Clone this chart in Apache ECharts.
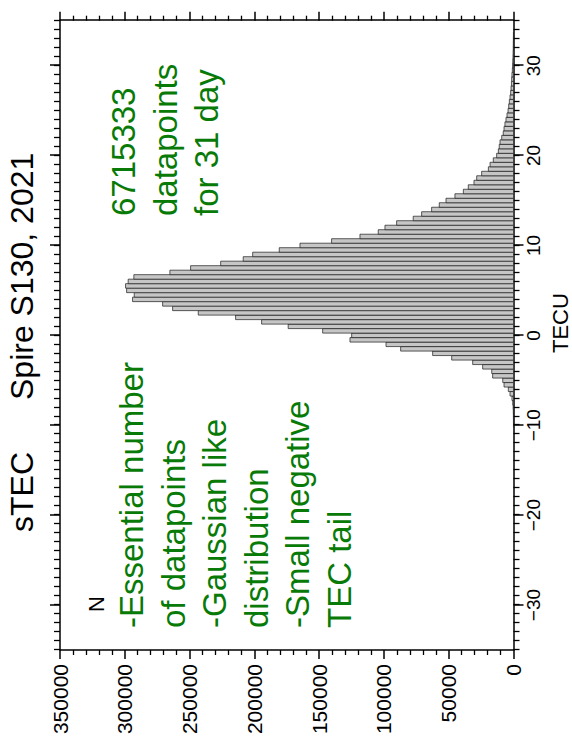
<!DOCTYPE html>
<html>
<head>
<meta charset="utf-8">
<script src="https://cdn.jsdelivr.net/npm/echarts@6/dist/echarts.min.js"></script>
<style>
html,body{margin:0;padding:0;background:#fff;overflow:hidden;width:572px;height:740px;}
#chart{position:absolute;left:0;top:0;width:740px;height:572px;transform-origin:0 0;transform:translate(0,740px) rotate(-90deg);}
</style>
</head>
<body>
<div id="chart"></div>
<script>
// Histogram bins (TECU, bin centres) and counts N
var binWidth = 0.5;
var binCenters = [-10,-9.5,-9,-8.5,-8,-7.5,-7,-6.5,-6,-5.5,-5,-4.5,-4,-3.5,-3,-2.5,-2,-1.5,-1,-0.5,
  0,0.5,1,1.5,2,2.5,3,3.5,4,4.5,5,5.5,6,6.5,7,7.5,8,8.5,9,9.5,
  10,10.5,11,11.5,12,12.5,13,13.5,14,14.5,15,15.5,16,16.5,17,17.5,18,18.5,19,19.5,
  20,20.5,21,21.5,22,22.5,23,23.5,24,24.5,25,25.5,26,26.5,27,27.5,28,28.5,29,29.5,
  30,30.5,31,31.5,32,32.5,33,33.5];
var counts = [30,50,80,150,300,600,1200,2700,4000,7300,8300,16100,16800,23800,31500,47700,62400,87100,98400,126200,
  124900,147300,173900,194400,214500,243300,263100,270800,294000,292700,298600,299400,297400,293000,265200,249200,226000,208600,201300,180800,
  164800,140400,118500,104400,99200,90200,77400,70900,63200,57300,52100,45200,38700,34900,30500,28400,24600,19400,18100,15600,
  13000,11700,11000,10400,9100,7900,7300,6600,5800,5000,4200,3700,3200,2700,2200,1900,1600,1400,1200,900,
  700,550,400,300,200,150,100,50];
var tecMajorTicks = [-30,-20,-10,0,10,20,30];
var tecRange = [-35, 35];
var nRange = [0, 350000];
var nInterval = 50000;

var titleLeft = 'sTEC';
var titleRight = 'Spire S130, 2021';
var noteRight = ['6715333', 'datapoints', 'for 31 day'];
var noteLeft = ['-Essential number', 'of datapoints', '-Gaussian like', 'distribution', '-Small negative', 'TEC tail'];
var yName = 'N';
var xName = 'TECU';

var FONT = '"Liberation Sans", Arial, Helvetica, sans-serif';
var GREEN = '#087a08';

var data = binCenters.map(function (c, i) { return [c, counts[i]]; });

var chart = echarts.init(document.getElementById('chart'), null, {renderer: 'svg', width: 740, height: 572});

function minusFmt(v) { return String(v).replace('-', '\u2212'); }
function plainFmt(v) { return String(v); }

var graphics = [];
function addText(txt, x, y, size, color) {
  graphics.push({type: 'text', x: x, y: y, z: 100,
    style: {text: txt, fill: color, fontSize: size, fontFamily: FONT, align: 'left', verticalAlign: 'middle'}});
}
addText(titleLeft, 208, 21.5, 32, '#000');
addText(titleRight, 340, 21.5, 32, '#000');
var rightBase = [123, 165, 206];
noteRight.forEach(function (t, i) { addText(t, 524, rightBase[i], 33, GREEN); });
var leftBase = [131, 173, 214, 256, 297, 339];
noteLeft.forEach(function (t, i) { addText(t, 112, leftBase[i], 33, GREEN); });
addText(yName, 128, 96, 22, '#000');
addText(xName, 387, 560, 22, '#000');

var lineStyle = {color: '#000', width: 1.5};

chart.setOption({
  animation: false,
  backgroundColor: '#fff',
  grid: {left: 90, right: 20.7, top: 60, bottom: 58.5, containLabel: false},
  xAxis: [
    {type: 'value', position: 'bottom', min: tecRange[0], max: tecRange[1],
      axisLine: {show: true, onZero: false, lineStyle: lineStyle},
      axisTick: {show: true, inside: false, length: 10, lineStyle: lineStyle, customValues: tecMajorTicks},
      axisLabel: {show: true, customValues: tecMajorTicks, fontSize: 19, fontFamily: FONT, color: '#000', margin: 10, formatter: minusFmt},
      splitLine: {show: false}},
    {type: 'value', position: 'bottom', min: tecRange[0], max: tecRange[1], interval: 1,
      axisLine: {show: false, onZero: false},
      axisTick: {show: true, inside: false, length: 6, lineStyle: {color: '#000', width: 1.3}},
      axisLabel: {show: false}, splitLine: {show: false}},
    {type: 'value', position: 'top', min: tecRange[0], max: tecRange[1],
      axisLine: {show: true, onZero: false, lineStyle: lineStyle},
      axisTick: {show: true, inside: false, length: 10, lineStyle: lineStyle, customValues: tecMajorTicks},
      axisLabel: {show: false}, splitLine: {show: false}},
    {type: 'value', position: 'top', min: tecRange[0], max: tecRange[1], interval: 1,
      axisLine: {show: false, onZero: false},
      axisTick: {show: true, inside: false, length: 6, lineStyle: {color: '#000', width: 1.3}},
      axisLabel: {show: false}, splitLine: {show: false}}
  ],
  yAxis: [
    {type: 'value', position: 'left', min: nRange[0], max: nRange[1], interval: nInterval,
      axisLine: {show: true, onZero: false, lineStyle: lineStyle},
      axisTick: {show: true, inside: false, length: 9, lineStyle: lineStyle},
      minorTick: {show: true, splitNumber: 5, length: 5, lineStyle: {color: '#000', width: 1.3}},
      axisLabel: {show: true, fontSize: 21, fontFamily: FONT, color: '#000', margin: 14, formatter: plainFmt},
      splitLine: {show: false}, minorSplitLine: {show: false}},
    {type: 'value', position: 'right', min: nRange[0], max: nRange[1], interval: nInterval,
      axisLine: {show: true, onZero: false, lineStyle: lineStyle},
      axisTick: {show: true, inside: false, length: 9, lineStyle: lineStyle},
      minorTick: {show: true, splitNumber: 5, length: 5, lineStyle: {color: '#000', width: 1.3}},
      axisLabel: {show: false},
      splitLine: {show: false}, minorSplitLine: {show: false}}
  ],
  series: [{
    type: 'custom',
    xAxisIndex: 0, yAxisIndex: 0,
    data: data,
    encode: {x: 0, y: 1},
    clip: true,
    renderItem: function (params, api) {
      var c = api.value(0), v = api.value(1);
      var p0 = api.coord([c - binWidth / 2, v]);
      var p1 = api.coord([c + binWidth / 2, 0]);
      return {type: 'rect',
        shape: {x: p0[0], y: p0[1], width: p1[0] - p0[0], height: p1[1] - p0[1]},
        style: {fill: '#c6c6c6', stroke: '#1a1a1a', lineWidth: 0.7}};
    }
  }],
  graphic: graphics
});
</script>
</body>
</html>
